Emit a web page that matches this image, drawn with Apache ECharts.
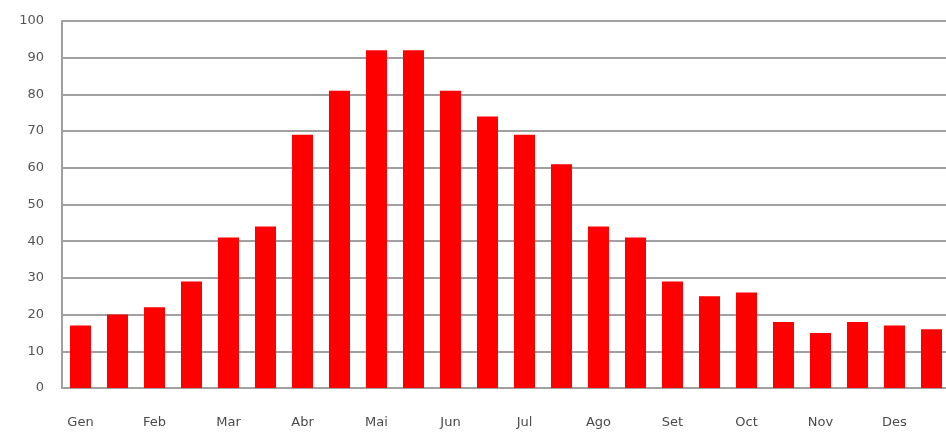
<!DOCTYPE html>
<html>
<head>
<meta charset="utf-8">
<script src="https://cdn.jsdelivr.net/npm/echarts@6/dist/echarts.min.js"></script>
<style>html,body{margin:0;padding:0;background:#fff;overflow:hidden}#c{width:950px;height:432px}</style>
</head>
<body>
<div id="c"></div>
<script>
const categories = ["Gen","Gen-2","Feb","Feb-2","Mar","Mar-2","Abr","Abr-2","Mai","Mai-2","Jun","Jun-2",
  "Jul","Jul-2","Ago","Ago-2","Set","Set-2","Oct","Oct-2","Nov","Nov-2","Des","Des-2"];
const values = [17,20,22,29,41,44,69,81,92,92,81,74,69,61,44,41,29,25,26,18,15,18,17,16];
const yTicks = [0,10,20,30,40,50,60,70,80,90,100];

const chart = echarts.init(document.getElementById('c'));
chart.setOption({
  animation: false,
  backgroundColor: '#fff',
  grid: { left: 62, top: 21, bottom: 44, right: 0 },
  xAxis: {
    type: 'category',
    data: categories,
    axisLine: { show: true, lineStyle: { color: '#a0a0a0', width: 2 } },
    axisTick: { show: false },
    axisLabel: {
      interval: 0,
      margin: 28,
      color: '#4a4a4a',
      fontFamily: 'DejaVu Sans',
      fontSize: 13,
      formatter: (v, i) => (i % 2 === 0 ? v : '')
    }
  },
  yAxis: {
    type: 'value',
    min: yTicks[0],
    max: yTicks[yTicks.length - 1],
    interval: 10,
    axisLine: { show: true, lineStyle: { color: '#a0a0a0', width: 2 } },
    axisTick: { show: false },
    axisLabel: { margin: 18, color: '#555', fontFamily: 'DejaVu Sans', fontSize: 13 },
    splitLine: { lineStyle: { color: '#a0a0a0', width: 2 } }
  },
  series: [{
    type: 'bar',
    data: values,
    barWidth: 21,
    itemStyle: { color: '#ff0000' }
  }]
});
</script>
</body>
</html>
